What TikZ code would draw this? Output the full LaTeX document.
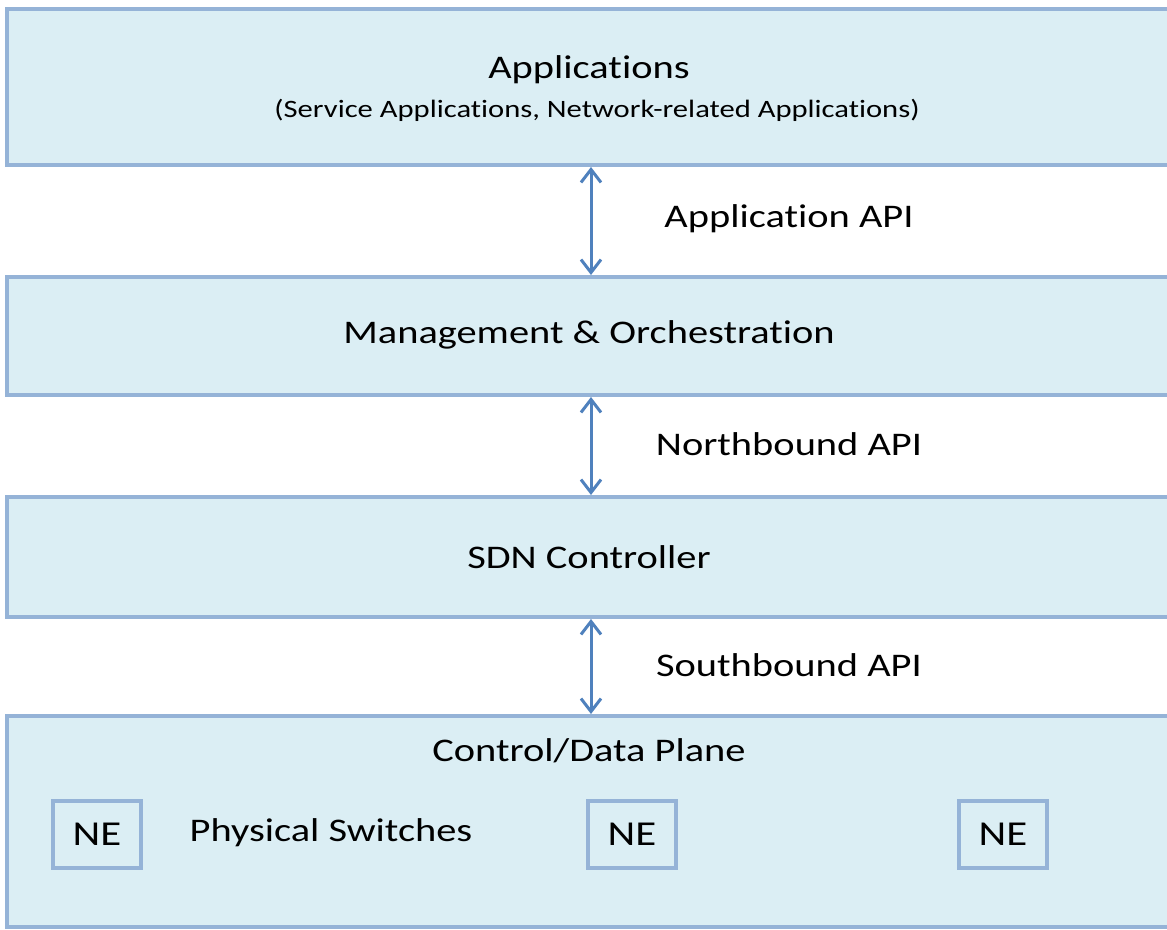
\documentclass[tikz,border=0pt]{standalone}
\usepackage{fontspec}
\setmainfont{Carlito}[FakeStretch=1.225,Ligatures=NoCommon]
\usetikzlibrary{arrows.meta}
\definecolor{layerfill}{HTML}{DBEEF4}
\definecolor{layerline}{HTML}{95B3D7}
\definecolor{apiarrow}{HTML}{4F81BD}
\tikzset{
  layer/.style={draw=layerline, fill=layerfill, line width=4pt},
  nebox/.style={draw=layerline, fill=layerfill, line width=4pt, minimum width=88pt, minimum height=67pt, inner sep=0pt, font=\fontsize{35}{40}\selectfont},
  big/.style={font=\fontsize{33}{38}\selectfont},
  small/.style={font=\fontsize{25}{30}\selectfont},
  apilink/.style={draw=apiarrow, line width=3pt, {Straight Barb[length=13pt,width=20pt]}-{Straight Barb[length=13pt,width=20pt]}},
}
\begin{document}
\begin{tikzpicture}[x=1pt,y=-1pt]
\clip (0,0) rectangle (1167,929);
\fill[white] (0,0) rectangle (1167,929);
% stacked layers
\draw[layer] (7,9) rectangle (1190,165);
\draw[layer] (7,277) rectangle (1190,395);
\draw[layer] (7,497) rectangle (1190,617);
\draw[layer] (7,716) rectangle (1190,927);
% layer titles
\node[big] (apps) at (589,70) {Applications};
\node[small] (appsub) at (597,110) {(Service Applications, Network-related Applications)};
\node[big] (mgmt) at (589,335) {Management \& Orchestration};
\node[big] (ctrl) at (589,557) {SDN Controller};
\node[big] (plane) at (589,751) {Control/Data Plane};
\node[big] (phys) at (331,833) {Physical Switches};
% network elements
\node[nebox] (ne1) at (97,834) {NE};
\node[nebox] (ne2) at (632,834) {NE};
\node[nebox] (ne3) at (1003,834) {NE};
% interface anchors on layer borders
\coordinate (a1) at (591,167);
\coordinate (a2) at (591,275);
\coordinate (b1) at (591,397);
\coordinate (b2) at (591,495);
\coordinate (c1) at (591,619);
\coordinate (c2) at (591,714);
% APIs between layers
\draw[apilink] (a1) -- (a2);
\draw[apilink] (b1) -- (b2);
\draw[apilink] (c1) -- (c2);
\node[big] (appapi) at (789,219) {Application API};
\node[big] (nbapi) at (789,444) {Northbound API};
\node[big] (sbapi) at (789,665) {Southbound API};
\end{tikzpicture}
\end{document}
